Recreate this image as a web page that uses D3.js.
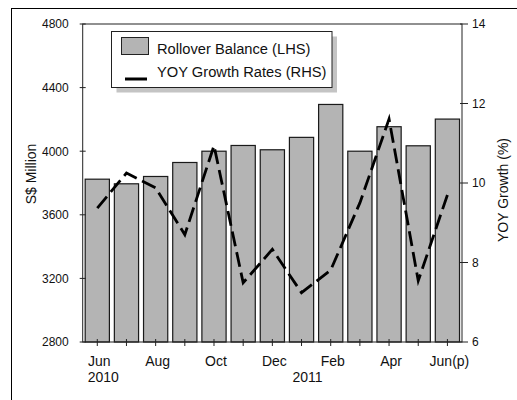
<!DOCTYPE html>
<html><head><meta charset="utf-8">
<script src="https://cdn.jsdelivr.net/npm/d3@7"></script>
<style>
body{margin:0;background:#fff;}
svg{display:block;font-family:"Liberation Sans",Arial,sans-serif;}
</style></head>
<body><svg id="c" width="517" height="400"></svg>
<script>
const months = ["Jun","Jul","Aug","Sep","Oct","Nov","Dec","Jan","Feb","Mar","Apr","May","Jun(p)"];
const monthLabels = ["Jun","","Aug","","Oct","","Dec","","Feb","","Apr","","Jun(p)"];
const balance = [3824, 3795, 3841, 3929, 4000, 4036, 4009, 4087, 4294, 4000, 4154, 4034, 4202];
const growth = [9.37, 10.25, 9.88, 8.70, 10.94, 7.49, 8.33, 7.24, 7.81, 9.5, 11.61, 7.54, 9.70];
const leftTicks = [2800, 3200, 3600, 4000, 4400, 4800];
const rightTicks = [6, 8, 10, 12, 14];
const years = [{label:"2010", at:"Jun"}, {label:"2011", at:"Jan"}];
const legendItems = ["Rollover Balance (LHS)", "YOY Growth Rates (RHS)"];

const svg = d3.select("#c");
const L = 82.7, R = 462, T = 24, B = 342;

// outer frame
svg.append("rect").attr("x",11.5).attr("y",8.5).attr("width",520).attr("height",420)
  .attr("fill","none").attr("stroke","#000").attr("stroke-width",1);

const x = d3.scaleBand().domain(months).range([L,R]).paddingInner(0.17).paddingOuter(0.085);
const yL = d3.scaleLinear().domain([2800,4800]).range([B,T]);
const yR = d3.scaleLinear().domain([6,14]).range([B,T]);
const cx = m => x(m) + x.bandwidth()/2;

// bars
svg.append("g").selectAll("rect").data(months).join("rect")
  .attr("x", m => x(m)).attr("width", x.bandwidth())
  .attr("y", (m,i) => yL(balance[i])).attr("height", (m,i) => B - yL(balance[i]))
  .attr("fill","#b4b4b4").attr("stroke","#1a1a1a").attr("stroke-width",1.2);

// line
const line = d3.line().x((d,i)=>cx(months[i])).y(d=>yR(d));
svg.append("path").datum(growth).attr("d", line)
  .attr("fill","none").attr("stroke","#000").attr("stroke-width",2.8)
  .attr("stroke-dasharray","15,6");

// plot box
svg.append("rect").attr("x",L).attr("y",T).attr("width",R-L).attr("height",B-T)
  .attr("fill","none").attr("stroke","#222").attr("stroke-width",1);

// left axis
const gl = svg.append("g").attr("transform",`translate(${L},0)`)
  .call(d3.axisLeft(yL).tickValues(leftTicks).tickSize(0).tickPadding(14).tickFormat(d3.format("d")));
gl.select(".domain").remove();
gl.selectAll("text").attr("font-size",12).attr("fill","#111").attr("font-family","Liberation Sans, Arial, sans-serif");
svg.append("g").selectAll("line").data(leftTicks).join("line")
  .attr("x1",L-3).attr("x2",L+3).attr("y1",d=>yL(d)).attr("y2",d=>yL(d)).attr("stroke","#222");

// right axis
const gr = svg.append("g").attr("transform",`translate(${R},0)`)
  .call(d3.axisRight(yR).tickValues(rightTicks).tickSize(0).tickPadding(10).tickFormat(d3.format("d")));
gr.select(".domain").remove();
gr.selectAll("text").attr("font-size",12).attr("fill","#111").attr("font-family","Liberation Sans, Arial, sans-serif");
svg.append("g").selectAll("line").data(rightTicks).join("line")
  .attr("x1",R-2).attr("x2",R+6).attr("y1",d=>yR(d)).attr("y2",d=>yR(d)).attr("stroke","#222");

// bottom axis
const gb = svg.append("g").attr("transform",`translate(0,${B})`)
  .call(d3.axisBottom(x).tickSize(0).tickPadding(14).tickFormat((m,i)=>monthLabels[i]));
gb.select(".domain").remove();
gb.selectAll("text").attr("font-size",14).attr("fill","#111").attr("dx",2).attr("font-family","Liberation Sans, Arial, sans-serif");
svg.append("g").selectAll("line").data(months).join("line")
  .attr("x1",cx).attr("x2",cx).attr("y1",B-3).attr("y2",B+4).attr("stroke","#222");

// years
svg.append("g").selectAll("text").data(years).join("text")
  .attr("x", d => cx(d.at) + 6).attr("y", 382)
  .attr("text-anchor","middle").attr("font-size",14).attr("fill","#111").text(d=>d.label);

// axis titles
svg.append("text").attr("transform",`translate(36,174) rotate(-90)`).attr("text-anchor","middle")
  .attr("font-size",14).attr("fill","#111").text("S$ Million");
svg.append("text").attr("transform",`translate(508,190) rotate(-90)`).attr("text-anchor","middle")
  .attr("font-size",14).attr("fill","#111").text("YOY Growth (%)");

// legend
const lx = 111.5, ly = 31.5, lw = 220.5, lh = 56;
svg.append("rect").attr("x",lx+5).attr("y",ly+5).attr("width",lw).attr("height",lh).attr("fill","#c4c4c4");
svg.append("rect").attr("x",lx).attr("y",ly).attr("width",lw).attr("height",lh).attr("fill","#fff").attr("stroke","#222");
svg.append("rect").attr("x",121.5).attr("y",37.5).attr("width",27).attr("height",17)
  .attr("fill","#b4b4b4").attr("stroke","#222");
svg.append("line").attr("x1",125).attr("x2",147).attr("y1",79).attr("y2",79).attr("stroke","#000").attr("stroke-width",3);
svg.append("g").selectAll("text").data(legendItems).join("text")
  .attr("x",157).attr("y",(d,i)=>54+i*23).attr("font-size",14.7).attr("fill","#111").text(d=>d);
</script></body></html>
